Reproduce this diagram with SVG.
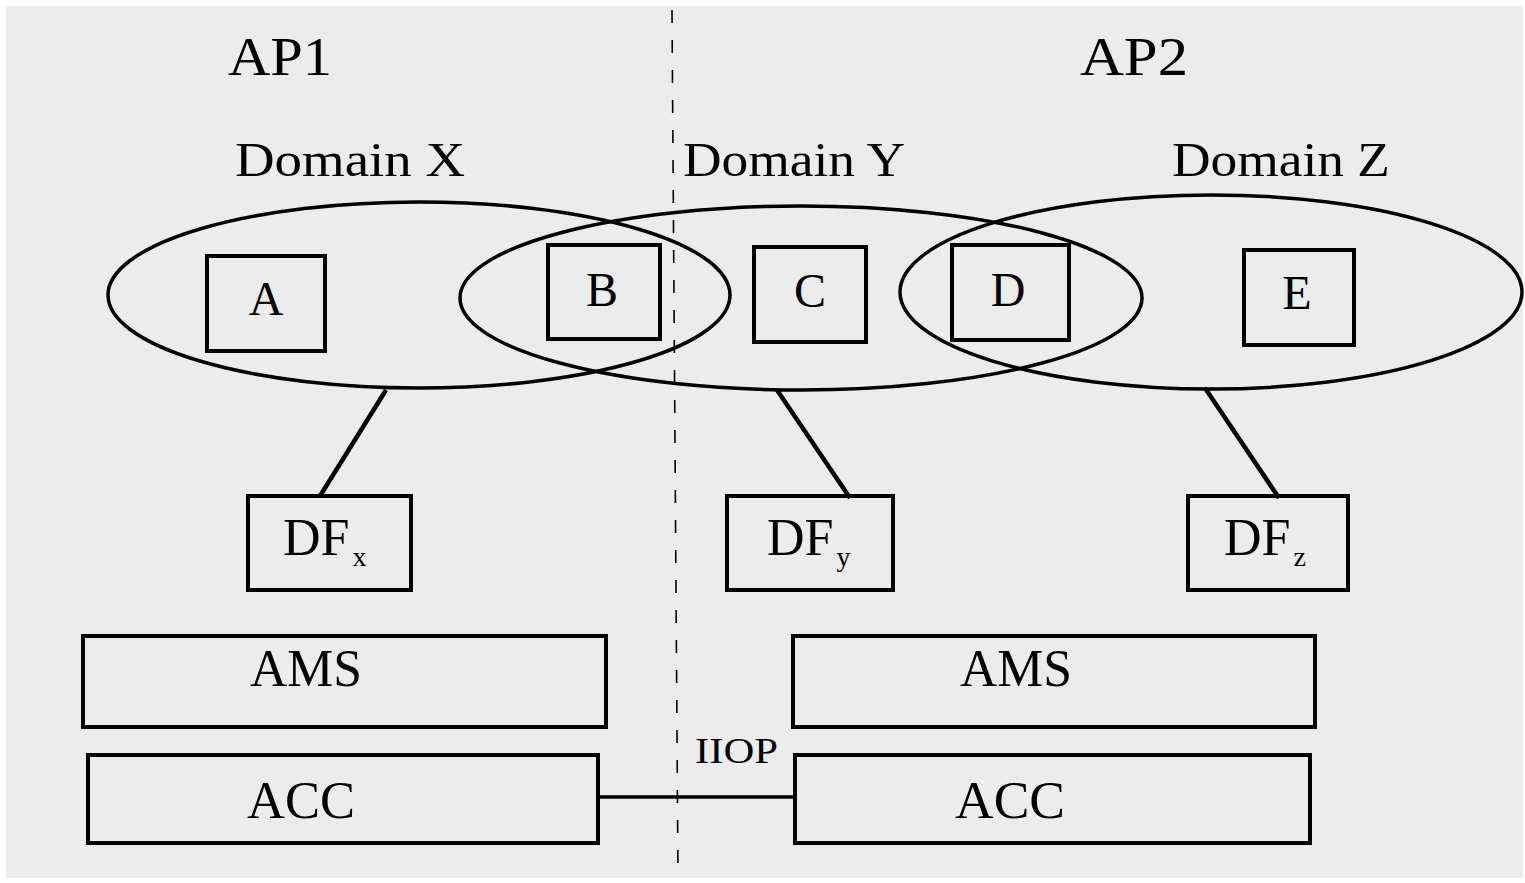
<svg xmlns="http://www.w3.org/2000/svg" width="1525" height="883" viewBox="0 0 1525 883">
<style>
.bg{fill:#ececec}
.dom{fill:none;stroke:#000;stroke-width:3.5}
.box{fill:none;stroke:#000;stroke-width:4}
.con{fill:none;stroke:#000;stroke-width:4.5}
.sep{fill:none;stroke:#000;stroke-width:1.6;stroke-dasharray:13 17}
text{font-family:"Liberation Serif","Times New Roman",serif;fill:#000}
.ap{font-size:54px}
.dl{font-size:48px}
.lt{font-size:48px;text-anchor:middle}
.df{font-size:52px}
.sub{font-size:28px}
.big{font-size:52px}
.iiop{font-size:36px}
</style>
<rect x="0" y="0" width="1525" height="883" fill="#ffffff"/>
<rect class="bg" x="6" y="6" width="1517" height="872"/>
<line class="sep" x1="672" y1="10" x2="678" y2="878"/>
<text class="ap" x="228" y="75" textLength="104" lengthAdjust="spacingAndGlyphs">AP1</text>
<text class="ap" x="1080" y="75" textLength="108" lengthAdjust="spacingAndGlyphs">AP2</text>
<text class="dl" x="235" y="176" textLength="230" lengthAdjust="spacingAndGlyphs">Domain X</text>
<text class="dl" x="683" y="176" textLength="222" lengthAdjust="spacingAndGlyphs">Domain Y</text>
<text class="dl" x="1172" y="176" textLength="218" lengthAdjust="spacingAndGlyphs">Domain Z</text>
<g id="domains">
<ellipse id="domainX" class="dom" cx="419" cy="295" rx="311" ry="93"/>
<ellipse id="domainY" class="dom" cx="801" cy="298" rx="341" ry="92"/>
<ellipse id="domainZ" class="dom" cx="1211" cy="292" rx="311" ry="97"/>
</g>
<g id="connectors">
<line class="con" x1="386" y1="390" x2="320" y2="496"/>
<line class="con" x1="777" y1="390" x2="850" y2="498"/>
<line class="con" x1="1205" y1="388" x2="1279" y2="498"/>
<line class="con" x1="598" y1="797" x2="795" y2="797" style="stroke-width:3.5"/>
</g>
<g id="nodeA"><rect class="box" x="207" y="256" width="118" height="95"/><text class="lt" x="266" y="315">A</text></g>
<g id="nodeB"><rect class="box" x="548" y="245" width="112" height="94"/><text class="lt" x="602" y="306">B</text></g>
<g id="nodeC"><rect class="box" x="754" y="247" width="112" height="95"/><text class="lt" x="810" y="307">C</text></g>
<g id="nodeD"><rect class="box" x="952" y="245" width="117" height="95"/><text class="lt" x="1008" y="306">D</text></g>
<g id="nodeE"><rect class="box" x="1244" y="250" width="110" height="95"/><text class="lt" x="1297" y="309">E</text></g>
<g id="DFx"><rect class="box" x="248" y="496" width="163" height="94"/><text class="df" x="283" y="555">DF<tspan class="sub" dx="3" dy="11">x</tspan></text></g>
<g id="DFy"><rect class="box" x="727" y="496" width="166" height="94"/><text class="df" x="767" y="555">DF<tspan class="sub" dx="3" dy="11">y</tspan></text></g>
<g id="DFz"><rect class="box" x="1188" y="496" width="160" height="94"/><text class="df" x="1224" y="555">DF<tspan class="sub" dx="3" dy="11">z</tspan></text></g>
<g id="AMS1"><rect class="box" x="83" y="636" width="523" height="91"/><text class="big" x="250" y="686" textLength="112" lengthAdjust="spacingAndGlyphs">AMS</text></g>
<g id="AMS2"><rect class="box" x="793" y="636" width="522" height="91"/><text class="big" x="960" y="686" textLength="112" lengthAdjust="spacingAndGlyphs">AMS</text></g>
<g id="ACC1"><rect class="box" x="88" y="755" width="510" height="88"/><text class="big" x="247" y="818" textLength="108" lengthAdjust="spacingAndGlyphs">ACC</text></g>
<g id="ACC2"><rect class="box" x="795" y="755" width="515" height="88"/><text class="big" x="955" y="818" textLength="110" lengthAdjust="spacingAndGlyphs">ACC</text></g>
<text class="iiop" x="695" y="763" textLength="83" lengthAdjust="spacingAndGlyphs">IIOP</text>
</svg>
